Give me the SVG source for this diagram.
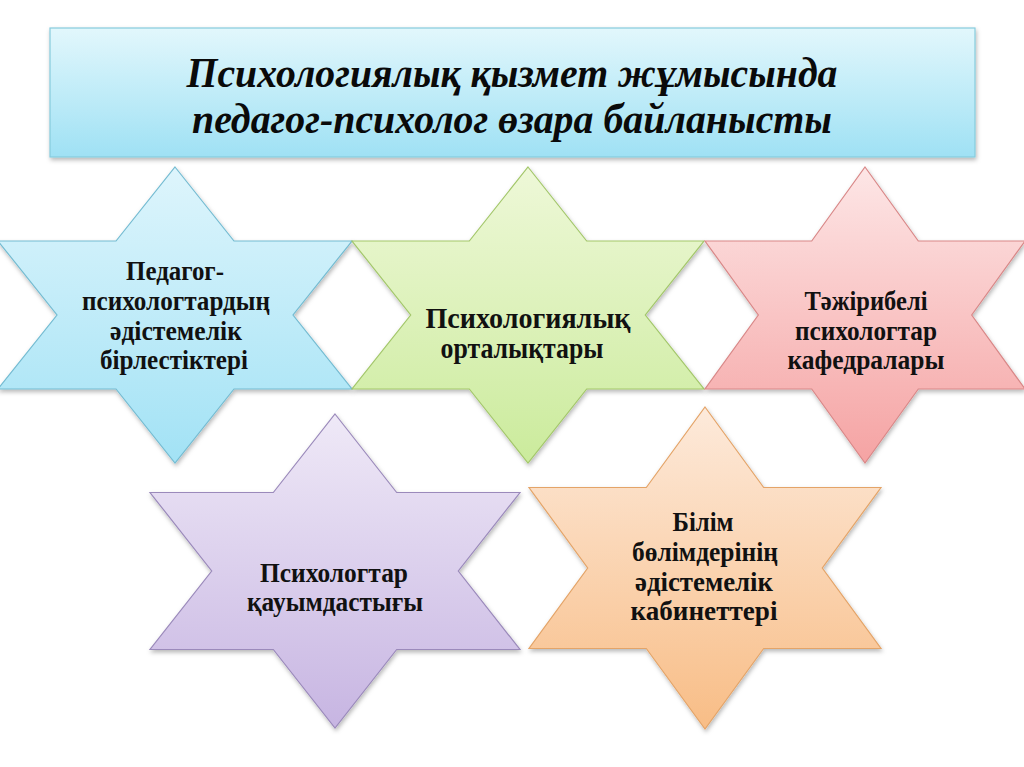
<svg xmlns="http://www.w3.org/2000/svg" width="1024" height="767" viewBox="0 0 1024 767">
<style>
.t{font-family:"Liberation Serif","Times New Roman",serif;font-weight:bold;fill:#111;text-anchor:middle}
.h{font-family:"Liberation Serif","Times New Roman",serif;font-weight:bold;font-style:italic;fill:#0a0a0a;text-anchor:middle}
.star{stroke-width:1.2}
</style>
<defs>
<filter id="sh" x="-10%" y="-10%" width="120%" height="125%">
<feDropShadow dx="1" dy="2.5" stdDeviation="2" flood-color="#000" flood-opacity="0.28"/>
</filter>
<linearGradient id="gHead" x1="0" y1="0" x2="0" y2="1">
<stop offset="0" stop-color="#e2f7fc"/><stop offset="1" stop-color="#9fe1f4"/>
</linearGradient>
<linearGradient id="gBlue" x1="0" y1="0" x2="0" y2="1">
<stop offset="0" stop-color="#def5fc"/><stop offset="1" stop-color="#a2e2f5"/>
</linearGradient>
<linearGradient id="gGreen" x1="0" y1="0" x2="0" y2="1">
<stop offset="0" stop-color="#eef8d8"/><stop offset="1" stop-color="#cbeb9c"/>
</linearGradient>
<linearGradient id="gRed" x1="0" y1="0" x2="0" y2="1">
<stop offset="0" stop-color="#fde6e6"/><stop offset="1" stop-color="#f5a3a3"/>
</linearGradient>
<linearGradient id="gPurple" x1="0" y1="0" x2="0" y2="1">
<stop offset="0" stop-color="#efe9f7"/><stop offset="1" stop-color="#c7b5e2"/>
</linearGradient>
<linearGradient id="gOrange" x1="0" y1="0" x2="0" y2="1">
<stop offset="0" stop-color="#fdeadb"/><stop offset="1" stop-color="#f8bd86"/>
</linearGradient>
</defs>
<rect width="1024" height="767" fill="#ffffff"/>

<g id="header">
<rect x="50" y="28" width="925" height="129" fill="url(#gHead)" stroke="#86cbdd" stroke-width="1.2" filter="url(#sh)"/>
<text class="h" x="512" y="87" font-size="42" textLength="651" lengthAdjust="spacingAndGlyphs">Психологиялық қызмет жұмысында</text>
<text class="h" x="512" y="133" font-size="42" textLength="640" lengthAdjust="spacingAndGlyphs">педагог-психолог өзара байланысты</text>
</g>

<g id="connectors"></g>

<g id="star1">
<polygon class="star" filter="url(#sh)" fill="url(#gBlue)" stroke="#74bcd2" points="175,167 234,241 352,241 293,315 352,389 234,389 175,463 116,389 -2,389 57,315 -2,241 116,241"/>
<text class="t" x="175" y="280" font-size="27" textLength="98" lengthAdjust="spacingAndGlyphs">Педагог-</text>
<text class="t" x="176" y="310" font-size="27" textLength="188" lengthAdjust="spacingAndGlyphs">психологтардың</text>
<text class="t" x="176" y="340" font-size="27" textLength="132" lengthAdjust="spacingAndGlyphs">әдістемелік</text>
<text class="t" x="174" y="369" font-size="27" textLength="148" lengthAdjust="spacingAndGlyphs">бірлестіктері</text>
</g>

<g id="star2">
<polygon class="star" filter="url(#sh)" fill="url(#gGreen)" stroke="#a3c76a" points="528,167 586.7,241 704,241 645.3,315 704,389 586.7,389 528,463 469.3,389 352,389 410.7,315 352,241 469.3,241"/>
<text class="t" x="528" y="328" font-size="29" textLength="205" lengthAdjust="spacingAndGlyphs">Психологиялық</text>
<text class="t" x="522" y="358" font-size="29" textLength="163" lengthAdjust="spacingAndGlyphs">орталықтары</text>
</g>

<g id="star3">
<polygon class="star" filter="url(#sh)" fill="url(#gRed)" stroke="#d98888" points="865,167 918.3,241 1025,241 971.7,315 1025,389 918.3,389 865,463 811.7,389 705,389 758.3,315 705,241 811.7,241"/>
<text class="t" x="866" y="310" font-size="27" textLength="123" lengthAdjust="spacingAndGlyphs">Тәжірибелі</text>
<text class="t" x="866" y="340" font-size="27" textLength="142" lengthAdjust="spacingAndGlyphs">психологтар</text>
<text class="t" x="866" y="369" font-size="27" textLength="157" lengthAdjust="spacingAndGlyphs">кафедралары</text>
</g>

<g id="star4">
<polygon class="star" filter="url(#sh)" fill="url(#gPurple)" stroke="#9b8abb" points="335,414 396.7,492.5 520,492.5 458.3,571 520,649.5 396.7,649.5 335,728 273.3,649.5 150,649.5 211.7,571 150,492.5 273.3,492.5"/>
<text class="t" x="334" y="582" font-size="27" textLength="148" lengthAdjust="spacingAndGlyphs">Психологтар</text>
<text class="t" x="335" y="611" font-size="27" textLength="176" lengthAdjust="spacingAndGlyphs">қауымдастығы</text>
</g>

<g id="star5">
<polygon class="star" filter="url(#sh)" fill="url(#gOrange)" stroke="#e4a468" points="705,407 763.7,487.5 881,487.5 822.3,568 881,648.5 763.7,648.5 705,729 646.3,648.5 529,648.5 587.7,568 529,487.5 646.3,487.5"/>
<text class="t" x="703" y="531" font-size="27" textLength="61" lengthAdjust="spacingAndGlyphs">Білім</text>
<text class="t" x="705" y="561" font-size="27" textLength="146" lengthAdjust="spacingAndGlyphs">бөлімдерінің</text>
<text class="t" x="704" y="591" font-size="27" textLength="138" lengthAdjust="spacingAndGlyphs">әдістемелік</text>
<text class="t" x="704" y="620" font-size="27" textLength="147" lengthAdjust="spacingAndGlyphs">кабинеттері</text>
</g>
</svg>
